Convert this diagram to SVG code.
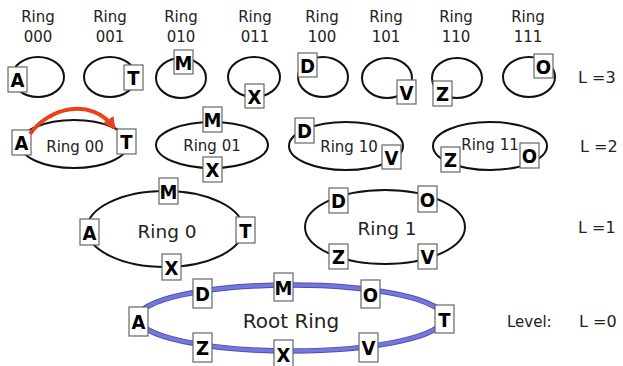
<svg xmlns="http://www.w3.org/2000/svg" width="623" height="366" viewBox="0 0 623 366">
<style>
.t{font-family:"DejaVu Sans",Verdana,sans-serif;fill:#222}
.hd{font-size:15px;text-anchor:middle}
.rg{fill:none;stroke:#111;stroke-width:2}
.box{fill:#fff;stroke:#666;stroke-width:1.2}
.lb{font-family:"DejaVu Sans Condensed","DejaVu Sans",sans-serif;font-stretch:condensed;font-weight:bold;font-size:20px;text-anchor:middle;fill:#000}
.lv{font-size:16px}
</style>
<defs>
<marker id="ah" viewBox="0 0 10 10" refX="8" refY="5" markerWidth="3.2" markerHeight="3.2" orient="auto" markerUnits="strokeWidth">
<path d="M0,0 L10,5 L0,10 z" fill="#e8421a"/>
</marker>
</defs>
<rect width="623" height="366" fill="#fff"/>
<g id="headers" class="t hd">
<text x="38" y="22">Ring</text><text x="38" y="42">000</text>
<text x="110" y="22">Ring</text><text x="110" y="42">001</text>
<text x="181" y="22">Ring</text><text x="181" y="42">010</text>
<text x="255" y="22">Ring</text><text x="255" y="42">011</text>
<text x="322" y="22">Ring</text><text x="322" y="42">100</text>
<text x="386" y="22">Ring</text><text x="386" y="42">101</text>
<text x="456" y="22">Ring</text><text x="456" y="42">110</text>
<text x="528" y="22">Ring</text><text x="528" y="42">111</text>
</g>
<g id="levels" class="t lv">
<text x="578" y="83">L =3</text>
<text x="580" y="152">L =2</text>
<text x="578" y="233">L =1</text>
<text x="507" y="327" style="font-size:15px">Level:</text>
<text x="579" y="327">L =0</text>
</g>
<!-- Level 3 -->
<g id="ring000"><ellipse class="rg" cx="38" cy="77" rx="26" ry="20"/><rect class="box" x="8" y="67" width="19" height="25"/><text class="lb" x="17.5" y="87">A</text></g>
<g id="ring001"><ellipse class="rg" cx="110" cy="77" rx="26" ry="20"/><rect class="box" x="124" y="65" width="19" height="25"/><text class="lb" x="133.5" y="85">T</text></g>
<g id="ring010"><ellipse class="rg" cx="181" cy="78" rx="25" ry="20"/><rect class="box" x="174" y="50" width="19" height="24"/><text class="lb" x="183.5" y="69.5">M</text></g>
<g id="ring011"><ellipse class="rg" cx="254" cy="77" rx="26" ry="20"/><rect class="box" x="245" y="84" width="19" height="24"/><text class="lb" x="254.5" y="103.5">X</text></g>
<g id="ring100"><ellipse class="rg" cx="323" cy="77" rx="25" ry="20"/><rect class="box" x="298" y="53" width="19" height="24"/><text class="lb" x="307.5" y="72.5">D</text></g>
<g id="ring101"><ellipse class="rg" cx="387" cy="78" rx="25" ry="20"/><rect class="box" x="397" y="80" width="19" height="24"/><text class="lb" x="406.5" y="99.5">V</text></g>
<g id="ring110"><ellipse class="rg" cx="457" cy="78" rx="25" ry="20"/><rect class="box" x="433" y="81" width="19" height="25"/><text class="lb" x="442.5" y="101">Z</text></g>
<g id="ring111"><ellipse class="rg" cx="529" cy="77" rx="26" ry="20"/><rect class="box" x="534" y="54" width="19" height="24"/><text class="lb" x="543.5" y="73.5">O</text></g>
<!-- Level 2 -->
<g id="ring00"><ellipse class="rg" cx="74" cy="144" rx="54" ry="24"/><text class="t" x="75" y="152" font-size="15" text-anchor="middle">Ring 00</text><rect class="box" x="12" y="130" width="19" height="25"/><text class="lb" x="21.5" y="150">A</text><rect class="box" x="117" y="129" width="19" height="25"/><text class="lb" x="126.5" y="149">T</text></g>
<g id="ring01"><ellipse class="rg" cx="212" cy="145" rx="56" ry="23"/><text class="t" x="212" y="151" font-size="15" text-anchor="middle">Ring 01</text><rect class="box" x="203" y="107" width="19" height="25"/><text class="lb" x="212.5" y="127">M</text><rect class="box" x="203" y="157" width="19" height="25"/><text class="lb" x="212.5" y="177">X</text></g>
<g id="ring10"><ellipse class="rg" cx="346" cy="146" rx="57" ry="24"/><text class="t" x="349" y="152" font-size="15" text-anchor="middle">Ring 10</text><rect class="box" x="295" y="118" width="19" height="25"/><text class="lb" x="304.5" y="138">D</text><rect class="box" x="382" y="145" width="19" height="24"/><text class="lb" x="391.5" y="164.5">V</text></g>
<g id="ring11"><ellipse class="rg" cx="490" cy="146" rx="57" ry="24"/><text class="t" x="490" y="150" font-size="15" text-anchor="middle">Ring 11</text><rect class="box" x="441" y="147" width="19" height="25"/><text class="lb" x="450.5" y="167">Z</text><rect class="box" x="520" y="143" width="19" height="25"/><text class="lb" x="529.5" y="163">O</text></g>
<!-- Level 1 -->
<g id="ring0"><ellipse class="rg" cx="165" cy="229" rx="78" ry="38"/><text class="t" x="167" y="238" font-size="18.5" text-anchor="middle">Ring 0</text><rect class="box" x="80" y="219" width="19" height="26"/><text class="lb" x="89.5" y="239.5">A</text><rect class="box" x="159" y="178" width="19" height="26"/><text class="lb" x="168.5" y="198.5">M</text><rect class="box" x="236" y="217" width="19" height="26"/><text class="lb" x="245.5" y="237.5">T</text><rect class="box" x="162" y="254" width="19" height="26"/><text class="lb" x="171.5" y="274.5">X</text></g>
<g id="ring1"><ellipse class="rg" cx="385" cy="227" rx="80" ry="37"/><text class="t" x="387" y="235" font-size="18.5" text-anchor="middle">Ring 1</text><rect class="box" x="329" y="188" width="19" height="25"/><text class="lb" x="338.5" y="208">D</text><rect class="box" x="418" y="186" width="19" height="26"/><text class="lb" x="427.5" y="206.5">O</text><rect class="box" x="329" y="244" width="19" height="25"/><text class="lb" x="338.5" y="264">Z</text><rect class="box" x="418" y="244" width="19" height="25"/><text class="lb" x="427.5" y="264">V</text></g>
<!-- Level 0 -->
<g id="root"><ellipse cx="291" cy="318" rx="153" ry="33" fill="none" stroke="#4b4fb0" stroke-width="5.5"/><ellipse cx="291" cy="318" rx="153" ry="33" fill="none" stroke="#7478dc" stroke-width="3.5"/><text class="t" x="291" y="328" font-size="20" text-anchor="middle">Root Ring</text>
<rect class="box" x="129" y="307" width="19" height="29"/><text class="lb" x="138.5" y="329">A</text>
<rect class="box" x="193" y="279" width="19" height="29"/><text class="lb" x="202.5" y="301">D</text>
<rect class="box" x="274" y="273" width="19" height="28"/><text class="lb" x="283.5" y="294.5">M</text>
<rect class="box" x="193" y="333" width="19" height="29"/><text class="lb" x="202.5" y="355">Z</text>
<rect class="box" x="274" y="340" width="19" height="28"/><text class="lb" x="283.5" y="361.5">X</text>
<rect class="box" x="361" y="280" width="19" height="28"/><text class="lb" x="370.5" y="301.5">O</text>
<rect class="box" x="435" y="305" width="19" height="28"/><text class="lb" x="444.5" y="326.5">T</text>
<rect class="box" x="359" y="333" width="19" height="29"/><text class="lb" x="368.5" y="355">V</text></g>
<g id="connectors"><path d="M30,134 C48,108 92,96 114,128" fill="none" stroke="#e8421a" stroke-width="4" marker-end="url(#ah)"/></g>
</svg>
